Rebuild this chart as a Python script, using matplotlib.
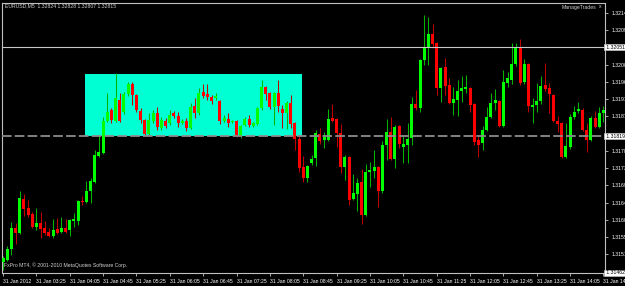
import numpy as np
import matplotlib
matplotlib.use('Agg')
import matplotlib.pyplot as plt
from matplotlib.patches import Rectangle
from matplotlib.transforms import blended_transform_factory

plt.rcParams['font.family'] = ['Liberation Sans', 'DejaVu Sans']

# EURUSD M5, 31 Jan 2012, 02:45 .. 14:45 (one value per bar)
opens = [1.31490, 1.31496, 1.31524, 1.31579, 1.31566, 1.31655, 1.31631, 1.31616, 1.31582, 1.31592,
         1.31579, 1.31569, 1.31558, 1.31576, 1.31569, 1.31579, 1.31574, 1.31597, 1.31597, 1.31650,
         1.31647, 1.31676, 1.31699, 1.31767, 1.31775, 1.31858, 1.31887, 1.31858, 1.31913, 1.31882,
         1.31929, 1.31955, 1.31926, 1.31884, 1.31861, 1.31824, 1.31858, 1.31879, 1.31840, 1.31858,
         1.31853, 1.31879, 1.31871, 1.31853, 1.31858, 1.31840, 1.31897, 1.31879, 1.31934, 1.31929,
         1.31921, 1.31918, 1.31910, 1.31858, 1.31863, 1.31856, 1.31858, 1.31819, 1.31848, 1.31863,
         1.31845, 1.31850, 1.31892, 1.31947, 1.31931, 1.31895, 1.31931, 1.31890, 1.31879, 1.31905,
         1.31853, 1.31811, 1.31738, 1.31710, 1.31749, 1.31762, 1.31824, 1.31809, 1.31809, 1.31866,
         1.31863, 1.31827, 1.31738, 1.31764, 1.31655, 1.31668, 1.31699, 1.31613, 1.31725, 1.31728,
         1.31738, 1.31676, 1.31796, 1.31830, 1.31759, 1.31845, 1.31790, 1.31796, 1.31814, 1.31903,
         1.31892, 1.32017, 1.32051, 1.32085, 1.32062, 1.31944, 1.31999, 1.31952, 1.31905, 1.31913,
         1.31936, 1.31942, 1.31944, 1.31903, 1.31809, 1.31801, 1.31835, 1.31869, 1.31905, 1.31910,
         1.31845, 1.31957, 1.31965, 1.32007, 1.32051, 1.31960, 1.32007, 1.31895, 1.31900, 1.31910,
         1.31952, 1.31944, 1.31926, 1.31858, 1.31853, 1.31764, 1.31790, 1.31869, 1.31884, 1.31887,
         1.31835, 1.31809, 1.31866, 1.31843, 1.31879]
highs = [1.31506, 1.31532, 1.31595, 1.31592, 1.31676, 1.31668, 1.31652, 1.31621, 1.31631, 1.31621,
         1.31597, 1.31579, 1.31603, 1.31605, 1.31608, 1.31603, 1.31603, 1.31618, 1.31652, 1.31663,
         1.31702, 1.31710, 1.31783, 1.31822, 1.31869, 1.31931, 1.31892, 1.31983, 1.31931, 1.31934,
         1.31960, 1.31960, 1.31929, 1.31892, 1.31863, 1.31879, 1.31887, 1.31895, 1.31869, 1.31866,
         1.31887, 1.31884, 1.31882, 1.31863, 1.31866, 1.31905, 1.31918, 1.31944, 1.31955, 1.31955,
         1.31926, 1.31931, 1.31913, 1.31874, 1.31879, 1.31861, 1.31861, 1.31848, 1.31869, 1.31874,
         1.31856, 1.31895, 1.31965, 1.31950, 1.31934, 1.31934, 1.31965, 1.31900, 1.31910, 1.31926,
         1.31856, 1.31822, 1.31767, 1.31744, 1.31770, 1.31835, 1.31840, 1.31830, 1.31890, 1.31903,
         1.31866, 1.31850, 1.31770, 1.31767, 1.31720, 1.31710, 1.31733, 1.31746, 1.31751, 1.31783,
         1.31741, 1.31806, 1.31863, 1.31869, 1.31848, 1.31848, 1.31819, 1.31853, 1.31921, 1.31939,
         1.32020, 1.32135, 1.32130, 1.32111, 1.32064, 1.31999, 1.32023, 1.31970, 1.31947, 1.31965,
         1.31976, 1.31978, 1.31947, 1.31905, 1.31822, 1.31845, 1.31895, 1.31931, 1.31942, 1.31913,
         1.31991, 1.31986, 1.32062, 1.32062, 1.32072, 1.32020, 1.32010, 1.31918, 1.31957, 1.31976,
         1.32010, 1.31957, 1.31929, 1.31871, 1.31856, 1.31853, 1.31877, 1.31897, 1.31908, 1.31892,
         1.31853, 1.31871, 1.31884, 1.31895, 1.31897]
lows = [1.31470, 1.31493, 1.31509, 1.31537, 1.31563, 1.31610, 1.31608, 1.31579, 1.31574, 1.31553,
        1.31561, 1.31556, 1.31553, 1.31563, 1.31566, 1.31566, 1.31558, 1.31582, 1.31587, 1.31639,
        1.31644, 1.31644, 1.31697, 1.31764, 1.31772, 1.31856, 1.31853, 1.31856, 1.31856, 1.31877,
        1.31923, 1.31900, 1.31882, 1.31853, 1.31822, 1.31822, 1.31853, 1.31835, 1.31835, 1.31840,
        1.31848, 1.31866, 1.31843, 1.31850, 1.31832, 1.31837, 1.31866, 1.31874, 1.31918, 1.31913,
        1.31903, 1.31913, 1.31850, 1.31856, 1.31843, 1.31853, 1.31817, 1.31814, 1.31845, 1.31843,
        1.31843, 1.31848, 1.31887, 1.31913, 1.31890, 1.31848, 1.31882, 1.31840, 1.31837, 1.31840,
        1.31783, 1.31725, 1.31699, 1.31699, 1.31744, 1.31741, 1.31798, 1.31788, 1.31806, 1.31856,
        1.31790, 1.31723, 1.31704, 1.31639, 1.31652, 1.31623, 1.31590, 1.31610, 1.31686, 1.31710,
        1.31634, 1.31670, 1.31757, 1.31757, 1.31736, 1.31788, 1.31749, 1.31749, 1.31796, 1.31887,
        1.31882, 1.32004, 1.32004, 1.32049, 1.31926, 1.31908, 1.31926, 1.31903, 1.31874, 1.31871,
        1.31908, 1.31931, 1.31882, 1.31796, 1.31764, 1.31783, 1.31832, 1.31866, 1.31887, 1.31843,
        1.31843, 1.31947, 1.31955, 1.32002, 1.31952, 1.31955, 1.31882, 1.31853, 1.31882, 1.31903,
        1.31936, 1.31879, 1.31856, 1.31830, 1.31762, 1.31762, 1.31785, 1.31863, 1.31879, 1.31832,
        1.31777, 1.31806, 1.31840, 1.31840, 1.31856]
closes = [1.31501, 1.31524, 1.31579, 1.31566, 1.31657, 1.31629, 1.31613, 1.31582, 1.31592, 1.31576,
          1.31566, 1.31558, 1.31574, 1.31566, 1.31579, 1.31569, 1.31600, 1.31603, 1.31650, 1.31647,
          1.31676, 1.31702, 1.31770, 1.31777, 1.31858, 1.31882, 1.31861, 1.31918, 1.31858, 1.31929,
          1.31955, 1.31926, 1.31887, 1.31861, 1.31824, 1.31861, 1.31879, 1.31843, 1.31861, 1.31845,
          1.31874, 1.31871, 1.31853, 1.31858, 1.31840, 1.31895, 1.31879, 1.31931, 1.31923, 1.31921,
          1.31910, 1.31923, 1.31858, 1.31866, 1.31853, 1.31858, 1.31819, 1.31845, 1.31863, 1.31848,
          1.31853, 1.31892, 1.31947, 1.31929, 1.31895, 1.31931, 1.31897, 1.31879, 1.31905, 1.31850,
          1.31811, 1.31736, 1.31710, 1.31741, 1.31759, 1.31827, 1.31806, 1.31817, 1.31863, 1.31858,
          1.31827, 1.31738, 1.31764, 1.31652, 1.31670, 1.31697, 1.31613, 1.31725, 1.31730, 1.31738,
          1.31676, 1.31796, 1.31830, 1.31759, 1.31843, 1.31798, 1.31798, 1.31811, 1.31903, 1.31892,
          1.32017, 1.32051, 1.32085, 1.32059, 1.31944, 1.31997, 1.31950, 1.31905, 1.31916, 1.31936,
          1.31944, 1.31947, 1.31900, 1.31803, 1.31796, 1.31835, 1.31869, 1.31905, 1.31913, 1.31845,
          1.31960, 1.31970, 1.32007, 1.32051, 1.31957, 1.32007, 1.31897, 1.31900, 1.31910, 1.31950,
          1.31942, 1.31929, 1.31858, 1.31850, 1.31764, 1.31793, 1.31869, 1.31882, 1.31890, 1.31835,
          1.31809, 1.31866, 1.31843, 1.31879, 1.31887]

time_labels = ["31 Jan 2012", "31 Jan 03:25", "31 Jan 04:05", "31 Jan 04:45", "31 Jan 05:25",
               "31 Jan 06:05", "31 Jan 06:45", "31 Jan 07:25", "31 Jan 08:05", "31 Jan 08:45",
               "31 Jan 09:25", "31 Jan 10:05", "31 Jan 10:45", "31 Jan 11:25", "31 Jan 12:05",
               "31 Jan 12:45", "31 Jan 13:25", "31 Jan 14:05", "31 Jan 14:45"]
price_ticks = [1.32140, 1.32095, 1.32050, 1.32005, 1.31960, 1.31915, 1.31870, 1.31825,
               1.31780, 1.31735, 1.31690, 1.31645, 1.31600, 1.31555, 1.31510]

hline_price = 1.32051      # solid horizontal line
dash_price = 1.31819       # dashed horizontal line
rect_bars = (20, 72)       # cyan zone, bar range
rect_prices = (1.31819, 1.31982)
bottom_price = 1.31462

title = "EURUSD,M5  1.32824 1.32828 1.32807 1.32815"
footer = "FxPro MT4, \u00a9 2001-2010 MetaQuotes Software Corp."

fs = 3.7
W, H = 625, 286
fig = plt.figure(figsize=(W / 100, H / 100), dpi=100, facecolor='black')
ax = fig.add_axes([2 / W, 13 / H, 603 / W, 270 / H], facecolor='black')

n = len(opens)
xs = np.arange(n)
o = np.array(opens); c = np.array(closes); h = np.array(highs); l = np.array(lows)
up = c >= o

# zone rectangle in the background
ax.add_patch(Rectangle((rect_bars[0] - 0.35, rect_prices[0]), rect_bars[1] - rect_bars[0],
                       rect_prices[1] - rect_prices[0], facecolor='#00FFD2', edgecolor='none', zorder=0))

# wicks + bodies
ax.vlines(xs[up], l[up], h[up], color='#00B400', lw=0.75, zorder=2)
ax.vlines(xs[~up], l[~up], h[~up], color='#C00000', lw=0.75, zorder=2)
body_h = np.maximum(np.abs(c - o), 0.00002)
body_b = np.minimum(o, c)
ax.bar(xs[up], body_h[up], bottom=body_b[up], width=0.72, color='#00FF00', lw=0, zorder=3)
ax.bar(xs[~up], body_h[~up], bottom=body_b[~up], width=0.72, color='#FF0000', lw=0, zorder=3)

# horizontal lines on top
ax.axhline(hline_price, color='#C8C8C8', lw=0.8, zorder=4)
ax.axhline(dash_price, color='#8C8C8C', lw=1.3, ls=(0, (5.3, 1.8)), zorder=4)

ax.set_xlim(-0.24, 144.36)
ax.set_ylim(1.32140 - 260 * 0.000026087, 1.32140 + 10 * 0.000026087)

# axes styling
for sp in ax.spines.values():
    sp.set_color('#C0C0C0')
    sp.set_linewidth(0.8)

# tick labels hidden under the highlighted line prices
covered = [min(price_ticks, key=lambda t: abs(t - p)) for p in (hline_price, dash_price)]
ax.yaxis.tick_right()
ax.set_yticks(price_ticks)
ax.set_yticklabels(["" if p in covered else f"{p:.5f}" for p in price_ticks])
ax.tick_params(axis='y', colors='#C0C0C0', labelcolor='white', labelsize=fs,
               length=2.5, width=0.6, pad=2)

ax.set_xticks(np.arange(0, n, 8)[:len(time_labels)])
ax.set_xticklabels(time_labels, ha='left')
ax.tick_params(axis='x', colors='#C0C0C0', labelcolor='white', labelsize=fs,
               length=2.5, width=0.6, pad=1.5)

# highlighted price labels
trans = blended_transform_factory(ax.transAxes, ax.transData)
for p in [hline_price, dash_price, bottom_price]:
    ax.text(1.0, p, f" {p:.5f}", transform=trans, fontsize=fs, color='black', va='center',
            ha='left', clip_on=False, zorder=6,
            bbox=dict(boxstyle='square,pad=0.15', facecolor='white', edgecolor='#C0C0C0', lw=0.5))

fig.text(5 / W, 1 - 6 / H, title, color='#D0D0D0', fontsize=fs, va='center', ha='left')
fig.text(562 / W, 1 - 7 / H, "ManageTrades", color='#D0D0D0', fontsize=fs, va='center', ha='left')
fig.text(599 / W, 1 - 7 / H, "x", color='#D0D0D0', fontsize=fs, va='center', ha='left')
fig.text(4 / W, 1 - 265 / H, footer, color='#D0D0D0', fontsize=fs, va='center', ha='left')

fig.savefig('out.png', dpi=100, facecolor='black')
